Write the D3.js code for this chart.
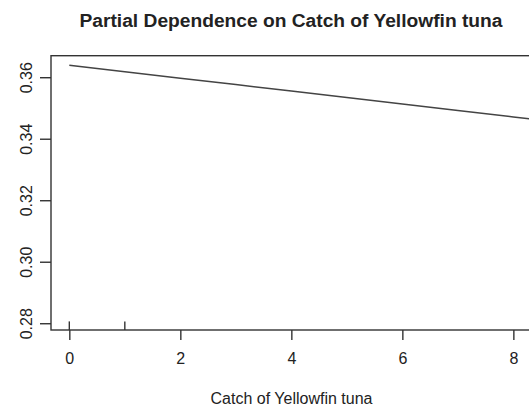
<!DOCTYPE html>
<html>
<head>
<meta charset="utf-8">
<script src="https://cdn.jsdelivr.net/npm/d3@7"></script>
<style>
  html, body { margin: 0; padding: 0; background: #fff; }
  text { font-family: "Liberation Sans", Arial, sans-serif; fill: #222; }
</style>
</head>
<body>
<div id="chart"></div>
<script>
// Data
const catchValues = [0, 1, 2, 3, 4, 5, 6, 7, 8, 8.6];
const partialDependence = [0.3639, 0.3618, 0.3597, 0.3576, 0.3555, 0.3534, 0.3513, 0.3492, 0.3471, 0.3458];
const rugValues = [0, 1];
const xTicks = [0, 2, 4, 6, 8];
const yTicks = [0.28, 0.30, 0.32, 0.34, 0.36];
const titleText = "Partial Dependence on Catch of Yellowfin tuna";
const xLabel = "Catch of Yellowfin tuna";

const W = 529, H = 412;
const plot = { left: 51, top: 55.7, right: 545, bottom: 330 };

const svg = d3.select("#chart").append("svg")
  .attr("width", W).attr("height", H);
svg.append("rect").attr("width", W).attr("height", H).attr("fill", "#fff");

const x = d3.scaleLinear().domain([-0.33, 8.57]).range([plot.left, plot.right]);
const y = d3.scaleLinear().domain([0.2778, 0.3670]).range([plot.bottom, plot.top]);

// Partial dependence line
const line = d3.line().x((d, i) => x(catchValues[i])).y(d => y(d));
svg.append("path")
  .datum(partialDependence)
  .attr("d", line)
  .attr("fill", "none")
  .attr("stroke", "#444")
  .attr("stroke-width", 1.5);

// Box
svg.append("rect")
  .attr("x", plot.left).attr("y", plot.top)
  .attr("width", plot.right - plot.left).attr("height", plot.bottom - plot.top)
  .attr("fill", "none").attr("stroke", "#333").attr("stroke-width", 1.4);

// Rug marks
svg.selectAll(".rug").data(rugValues).enter().append("line")
  .attr("x1", d => x(d)).attr("x2", d => x(d))
  .attr("y1", plot.bottom).attr("y2", plot.bottom - 8.6)
  .attr("stroke", "#333").attr("stroke-width", 1.4);

// X axis
const xAxis = svg.append("g")
  .attr("transform", `translate(0,${plot.bottom})`)
  .call(d3.axisBottom(x).tickValues(xTicks).tickSize(10).tickPadding(8).tickFormat(d3.format("d")));
xAxis.select(".domain").remove();
xAxis.selectAll(".tick line").attr("stroke", "#333").attr("stroke-width", 1.4);
xAxis.selectAll(".tick text")
  .attr("font-size", 16).attr("fill", "#222")
  .attr("font-family", "Liberation Sans, Arial, sans-serif")
  .attr("dy", null).attr("y", 34.3);

// Y axis
const yAxis = svg.append("g")
  .attr("transform", `translate(${plot.left},0)`)
  .call(d3.axisLeft(y).tickValues(yTicks).tickSize(11).tickFormat(d3.format(".2f")));
yAxis.select(".domain").remove();
yAxis.selectAll(".tick line").attr("stroke", "#333").attr("stroke-width", 1.4);
yAxis.selectAll(".tick text")
  .attr("font-size", 16).attr("fill", "#222")
  .attr("font-family", "Liberation Sans, Arial, sans-serif")
  .attr("x", null).attr("dy", null)
  .attr("text-anchor", "middle")
  .attr("transform", "translate(-19,0) rotate(-90)");

// Title
svg.append("text")
  .attr("x", 291).attr("y", 26.5)
  .attr("text-anchor", "middle")
  .attr("font-size", 19.2).attr("font-weight", "bold").attr("fill", "#111")
  .text(titleText);

// X label
svg.append("text")
  .attr("x", 291.5).attr("y", 404)
  .attr("text-anchor", "middle")
  .attr("font-size", 16)
  .text(xLabel);
</script>
</body>
</html>
